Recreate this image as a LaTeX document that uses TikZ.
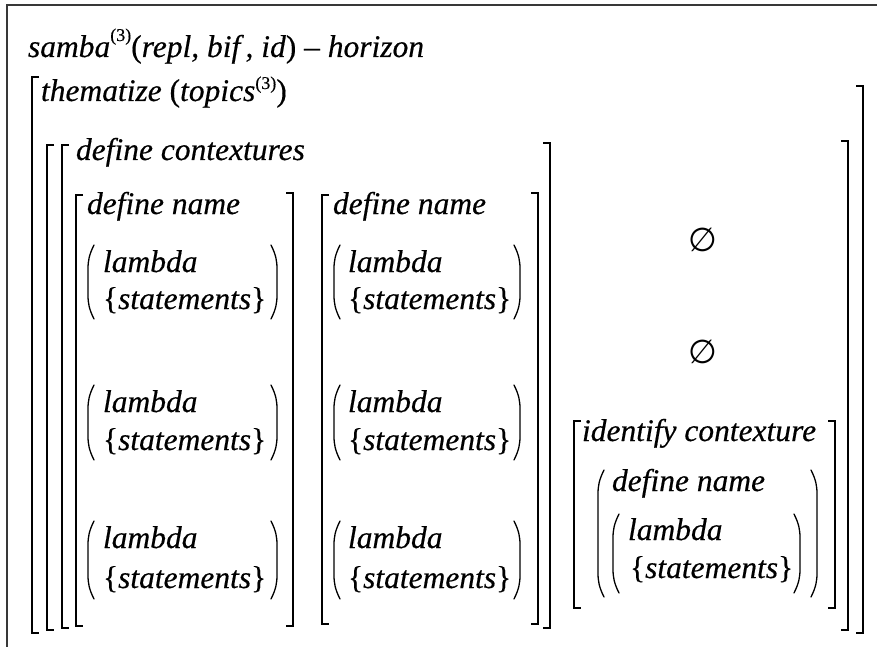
\documentclass[tikz,border=0pt]{standalone}
\usepackage{fontspec}
\setmainfont{Liberation Serif}[UprightFeatures={FakeBold=0.4},ItalicFeatures={FakeBold=0.4}]
\newfontfamily\symfont{DejaVu Sans}
\tikzset{
  txt/.style={anchor=base west, inner sep=0pt, outer sep=0pt, font=\fontsize{31.5}{36}\selectfont\itshape},
  emp/.style={anchor=center, inner sep=0pt, font=\symfont\fontsize{33}{36}\selectfont},
  brk/.style={line width=1.8pt, line cap=butt, line join=miter},
  prn/.style={line width=1.3pt, line cap=round},
  frm/.style={line width=2.6pt, draw=black!78}
}
\newcommand\sups[2]{\raisebox{#1pt}{\fontsize{18}{18}\selectfont\upshape #2}}
% left bracket: x, top, bottom
\newcommand\LBr[3]{\draw[brk] (#1+7,#2) -- (#1,#2) -- (#1,#3) -- (#1+7,#3);}
\newcommand\RBr[3]{\draw[brk] (#1-7,#2) -- (#1,#2) -- (#1,#3) -- (#1-7,#3);}
% parens: x, top, bottom
\newcommand\LPr[3]{\draw[prn] (#1+6,#2) .. controls (#1+1,#2+10) and (#1,#2+16) .. (#1,#2+24) -- (#1,#3-24) .. controls (#1,#3-16) and (#1+1,#3-10) .. (#1+6,#3);}
\newcommand\RPr[3]{\draw[prn] (#1-6,#2) .. controls (#1-1,#2+10) and (#1,#2+16) .. (#1,#2+24) -- (#1,#3-24) .. controls (#1,#3-16) and (#1-1,#3-10) .. (#1-6,#3);}
\begin{document}
\begin{tikzpicture}[x=1pt,y=-1pt]
\useasboundingbox (0,0) rectangle (877,647);
% frame
\draw[frm] (7,647) -- (7,5) -- (877,5);
% heading
\node[txt] (samba) at (28,57) {samba\sups{16}{(3)}\upshape(\itshape repl, bif\,, id\upshape)~–~\itshape horizon};
\node[txt] (them) at (41,101) {thematize \upshape(\itshape topics\sups{12}{(3)}\upshape)};
\node[txt] (defc) at (76,160) {define contextures};
% bracket A, B, C
\LBr{32}{77}{633} \RBr{863}{86}{633}
\LBr{47}{145}{630} \RBr{848}{141}{630}
\LBr{62}{145}{628} \RBr{550}{143}{628}
% D1
\LBr{76}{195}{626} \RBr{293}{193}{626}
\node[txt] (dn1) at (87,214) {define name};
\node[txt] (la11) at (103,272) {lambda};
\node[txt] (st11) at (103,309) {\upshape\{\itshape statements\upshape\}};
\LPr{88}{245}{319} \RPr{277}{245}{319}
\node[txt] (la12) at (103,412) {lambda};
\node[txt] (st12) at (103,450) {\upshape\{\itshape statements\upshape\}};
\LPr{88}{385}{460} \RPr{277}{385}{460}
\node[txt] (la13) at (103,548) {lambda};
\node[txt] (st13) at (103,588) {\upshape\{\itshape statements\upshape\}};
\LPr{88}{521}{599} \RPr{277}{521}{599}
% D2
\LBr{322}{195}{624} \RBr{538}{193}{624}
\node[txt] (dn2) at (333,214) {define name};
\node[txt] (la21) at (348,272) {lambda};
\node[txt] (st21) at (348,309) {\upshape\{\itshape statements\upshape\}};
\LPr{334}{245}{319} \RPr{520}{245}{319}
\node[txt] (la22) at (348,412) {lambda};
\node[txt] (st22) at (348,450) {\upshape\{\itshape statements\upshape\}};
\LPr{334}{385}{460} \RPr{520}{385}{460}
\node[txt] (la23) at (348,548) {lambda};
\node[txt] (st23) at (348,588) {\upshape\{\itshape statements\upshape\}};
\LPr{334}{521}{599} \RPr{520}{521}{599}
% empty sets
\node[emp] (e1) at (703,240) {∅};
\node[emp] (e2) at (703,352) {∅};
% E
\LBr{574}{421}{608} \RBr{835}{421}{608}
\node[txt] (idc) at (582,441) {identify contexture};
\node[txt] (dn3) at (612,491) {define name};
\LPr{598}{470}{597} \RPr{817}{470}{597}
\node[txt] (la3) at (628,540) {lambda};
\node[txt] (st3) at (630,578) {\upshape\{\itshape statements\upshape\}};
\LPr{613}{514}{593} \RPr{800}{514}{593}
\end{tikzpicture}
\end{document}
